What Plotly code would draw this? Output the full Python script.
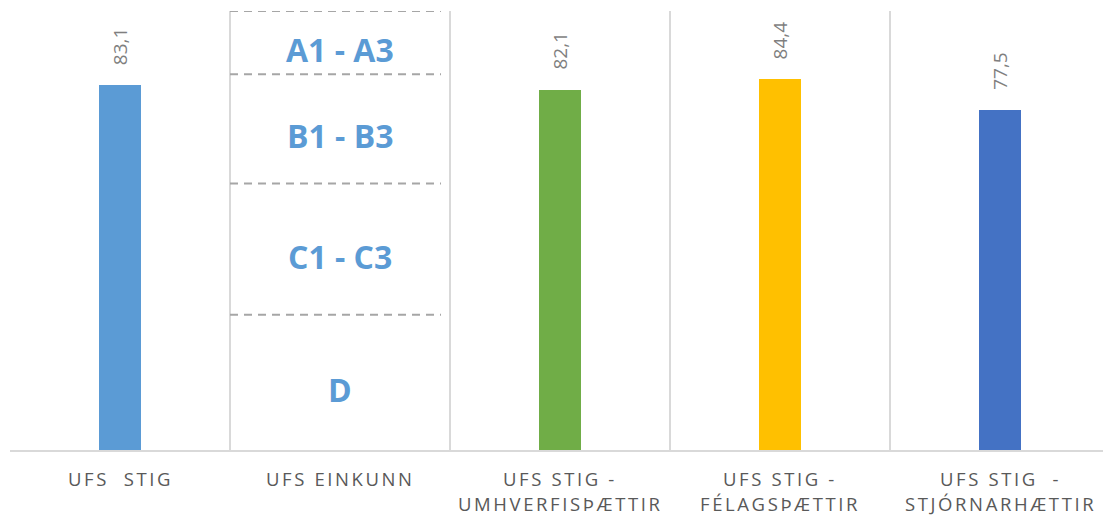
import plotly.graph_objects as go

# ---- data ----
categories = [
    ["UFS\u00a0\u00a0STIG"],
    ["UFS EINKUNN"],
    ["UFS STIG -", "UMHVERFISÞÆTTIR"],
    ["UFS STIG -", "FÉLAGSÞÆTTIR"],
    ["UFS STIG\u00a0\u00a0-", "STJÓRNARHÆTTIR"],
]
values = [83.1, None, 82.1, 84.4, 77.5]
value_labels = ["83,1", "", "82,1", "84,4", "77,5"]
bar_colors = ["#5B9BD5", None, "#70AD47", "#FFC000", "#4472C4"]

grade_labels = ["A1 - A3", "B1 - B3", "C1 - C3", "D"]
grade_bounds = [100, 85.6, 60.7, 30.8, 0]   # band edges (top -> bottom)
grade_category = 1

# ---- figure ----
fig = go.Figure()

xs = [i for i, v in enumerate(values) if v is not None]
fig.add_trace(go.Bar(
    x=xs,
    y=[values[i] for i in xs],
    marker=dict(color=[bar_colors[i] for i in xs], line=dict(width=0)),
    width=0.19,
    hoverinfo="skip",
    showlegend=False,
))

annotations = []
# value labels (rotated)
for i in xs:
    annotations.append(dict(
        x=i, y=values[i], xref="x", yref="y",
        text=value_labels[i], textangle=-90,
        showarrow=False, xanchor="center", yanchor="bottom",
        yshift=18,
        font=dict(family="Open Sans", size=19, color="#7f7f7f"),
    ))

# grade band dashed lines and labels
shapes = []
for b in grade_bounds[:-1]:
    shapes.append(dict(
        type="line", xref="x", yref="y",
        x0=grade_category - 0.5, x1=grade_category + 0.459,
        y0=b, y1=b,
        line=dict(color="#a6a6a6", width=2, dash="8px,6px"),
    ))
for k, lab in enumerate(grade_labels):
    mid = (grade_bounds[k] + grade_bounds[k + 1]) / 2
    annotations.append(dict(
        x=grade_category, y=mid, xref="x", yref="y",
        text="<b>" + lab + "</b>", showarrow=False,
        xanchor="center", yanchor="middle", yshift=-7,
        font=dict(family="Open Sans", size=32, color="#5B9BD5"),
    ))

# category labels (letter-spaced)
for i, lines in enumerate(categories):
    for j, line in enumerate(lines):
        annotations.append(dict(
            x=i, y=0, xref="x", yref="paper",
            text='<span style="letter-spacing:2.6px">' + line + "</span>",
            showarrow=False, xanchor="center", yanchor="middle",
            yshift=-28.5 - 25 * j,
            borderpad=0,
            font=dict(family="Open Sans", size=18.5, color="#595959"),
        ))

fig.update_layout(
    width=1103, height=515,
    margin=dict(l=10, r=0, t=11, b=65),
    paper_bgcolor="white", plot_bgcolor="white",
    bargap=0,
    shapes=shapes,
    annotations=annotations,
    xaxis=dict(
        range=[-0.5, -0.5 + 1093 / 220],
        tickvals=[-0.5, 0.5, 1.5, 2.5, 3.5, 4.5],
        showticklabels=False, ticks="",
        showgrid=True, gridcolor="#d9d9d9", gridwidth=1.5,
        zeroline=False,
        showline=True, linecolor="#d9d9d9", linewidth=2,
        fixedrange=True,
    ),
    yaxis=dict(
        range=[0, 100],
        showgrid=False, showticklabels=False, ticks="",
        zeroline=False, showline=False, fixedrange=True,
    ),
)

fig.write_html(
    "out.html",
    config={"displayModeBar": False},
    post_script="document.body.style.margin='0';document.body.style.overflow='hidden';",
)
